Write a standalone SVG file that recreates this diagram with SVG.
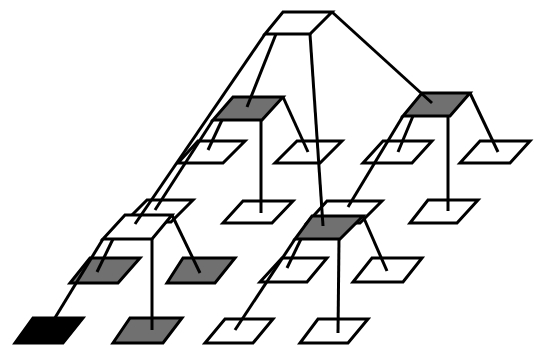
<svg xmlns="http://www.w3.org/2000/svg" width="534" height="346" viewBox="0 0 534 346">
<style>
.n{stroke:#000;stroke-width:3;stroke-linejoin:miter}
.w{fill:#fff}
.g{fill:#707070}
.k{fill:#000}
.c line{stroke:#000;stroke-width:3;stroke-linecap:butt}
</style>
<rect width="534" height="346" fill="#fff"/>
<!-- level 2 nodes -->
<g id="a-left"><polygon class="n w" points="198,141 245,141 223,163 178,163"/></g>
<g id="a-right"><polygon class="n w" points="297,141 342,141 320,163 275,163"/></g>
<g id="b-left"><polygon class="n w" points="383,141 432,141 412,163 363,163"/></g>
<g id="b-right"><polygon class="n w" points="480,141 530,141 510,163 460,163"/></g>
<g id="a-front-left"><polygon class="n w" points="147,200 193,200 171,222 125,222"/></g>
<g id="a-front-right"><polygon class="n w" points="243,201 293,201 272,223 223,223"/></g>
<g id="b-front-left"><polygon class="n w" points="327,201 382,201 360,223 307,223"/></g>
<g id="b-front-right"><polygon class="n w" points="428,200 478,200 457,223 410,223"/></g>
<g id="c-back-left"><polygon class="n g" points="90,258 140,258 118,283 70,283"/></g>
<g id="c-back-right"><polygon class="n g" points="183,258 235,258 215,283 167,283"/></g>
<g id="d-back-left"><polygon class="n w" points="282,258 327,258 307,282 260,282"/></g>
<g id="d-back-right"><polygon class="n w" points="372,258 422,258 403,282 353,282"/></g>
<g id="c-front-left"><polygon class="n k" points="33,318 83,318 63,343 15,343"/></g>
<g id="c-front-right"><polygon class="n g" points="130,318 182,318 163,343 113,343"/></g>
<g id="d-front-left"><polygon class="n w" points="225,319 273,319 253,343 205,343"/></g>
<g id="d-front-right"><polygon class="n w" points="318,319 368,319 348,343 300,343"/></g>
<!-- level 1 nodes -->
<g id="node-a"><polygon class="n g" points="233,97 283,97 262,120 213,120"/></g>
<g id="node-b"><polygon class="n g" points="422,93 470,93 450,116 403,116"/></g>
<g id="node-c"><polygon class="n w" points="125,215 172,215 152,239 103,239"/></g>
<g id="node-d"><polygon class="n g" points="312,216 363,216 340,239 295,239"/></g>
<!-- root -->
<g id="root"><polygon class="n w" points="283,12 332,12 310,34 265,34"/></g>
<!-- connectors -->
<g id="connectors" class="c">
<line x1="276" y1="34" x2="247" y2="107"/>
<line x1="332" y1="12" x2="432" y2="103"/>
<line x1="265" y1="34" x2="135" y2="224"/>
<line x1="310" y1="34" x2="323" y2="226"/>
<line x1="222" y1="120" x2="208" y2="150"/>
<line x1="283" y1="97" x2="308" y2="152"/>
<line x1="213" y1="120" x2="155" y2="210"/>
<line x1="261" y1="120" x2="261" y2="213"/>
<line x1="413" y1="116" x2="398" y2="152"/>
<line x1="470" y1="93" x2="498" y2="152"/>
<line x1="403" y1="116" x2="348" y2="207"/>
<line x1="448" y1="116" x2="448" y2="211"/>
<line x1="113" y1="239" x2="97" y2="272"/>
<line x1="172" y1="215" x2="200" y2="273"/>
<line x1="103" y1="239" x2="50" y2="326"/>
<line x1="152" y1="239" x2="152" y2="330"/>
<line x1="301" y1="239" x2="287" y2="268"/>
<line x1="363" y1="216" x2="387" y2="271"/>
<line x1="295" y1="239" x2="235" y2="330"/>
<line x1="339" y1="239" x2="338" y2="333"/>
</g>
</svg>
